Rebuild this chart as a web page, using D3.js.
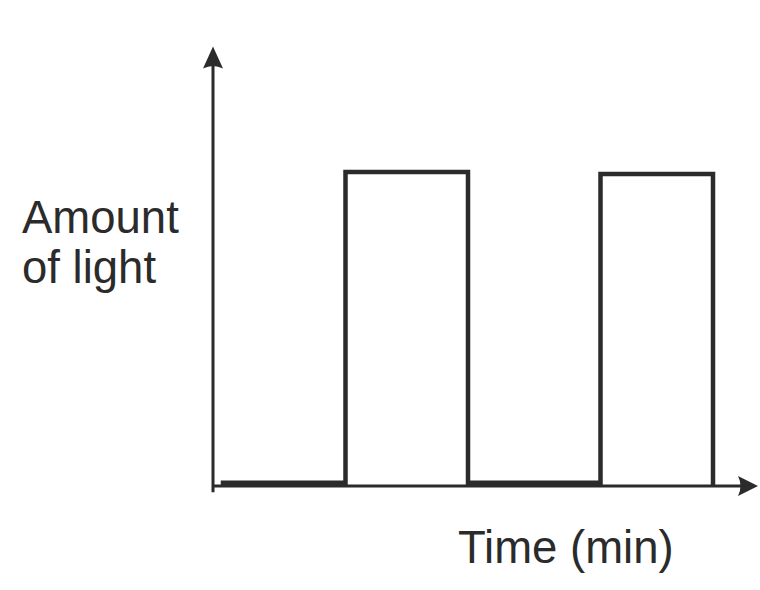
<!DOCTYPE html>
<html>
<head>
<meta charset="utf-8">
<script src="https://cdn.jsdelivr.net/npm/d3@7/dist/d3.min.js"></script>
<style>
  html, body { margin: 0; padding: 0; background: #fff; }
  svg { display: block; }
</style>
</head>
<body>
<svg id="chart" width="760" height="590"></svg>
<script>
// Light level over time: a square wave switching between off and on.
const switchTimes = [0.4, 5.3, 10.2, 15.5, 20.0];   // minutes
const lightLevels = [1.0, 100, 1.0, 99.4, 1.0];     // relative amount of light
const yLabelLines = ["Amount", "of light"];
const xLabel = "Time (min)";

const width = 760, height = 590;
const ink = "#2b2b2b";

const svg = d3.select("#chart");

// Scales: time runs along the horizontal axis, light up the vertical one
const x = d3.scaleLinear().domain([0, 21.8]).range([213, 758]);
const y = d3.scaleLinear().domain([0, 100]).range([486, 172]);
const yTop = 140;   // value at the y-axis arrow tip

const axisColor = ink;

// Vertical axis
svg.append("line")
  .attr("x1", x(0)).attr("x2", x(0))
  .attr("y1", y(-2)).attr("y2", y(yTop) + 10)
  .attr("stroke", axisColor).attr("stroke-width", 3);
svg.append("path")
  .attr("d", (() => {
    const tx = x(0), ty = y(yTop);
    return `M${tx},${ty} L${tx + 10},${ty + 22} Q${tx},${ty + 17} ${tx - 10},${ty + 22} Z`;
  })())
  .attr("fill", axisColor);

// Horizontal axis
svg.append("line")
  .attr("x1", x(0)).attr("x2", x(21.8) - 10)
  .attr("y1", y(0)).attr("y2", y(0))
  .attr("stroke", axisColor).attr("stroke-width", 3);
svg.append("path")
  .attr("d", (() => {
    const tx = x(21.8), ty = y(0);
    return `M${tx},${ty} L${tx - 20},${ty - 10} Q${tx - 15},${ty} ${tx - 20},${ty + 10} Z`;
  })())
  .attr("fill", axisColor);

// Light signal as a step line
const points = switchTimes.map((t, i) => ({ t, v: lightLevels[i] }));
const line = d3.line()
  .x(d => x(d.t))
  .y(d => y(d.v))
  .curve(d3.curveStepAfter);

svg.append("path")
  .datum(points)
  .attr("d", line)
  .attr("fill", "none")
  .attr("stroke", ink)
  .attr("stroke-width", 4.5)
  .attr("stroke-linejoin", "miter")
  .attr("stroke-linecap", "square");

// Axis titles
const font = "'Liberation Sans', Arial, sans-serif";
svg.append("text")
  .attr("x", 22).attr("y", 233)
  .attr("font-family", font).attr("font-size", 45.5)
  .attr("fill", ink)
  .selectAll("tspan")
  .data(yLabelLines)
  .join("tspan")
  .attr("x", 22)
  .attr("dy", (d, i) => i === 0 ? 0 : 50)
  .text(d => d);

svg.append("text")
  .attr("x", 458).attr("y", 563)
  .attr("font-family", font).attr("font-size", 45.5)
  .attr("fill", ink)
  .text(xLabel);
</script>
</body>
</html>
